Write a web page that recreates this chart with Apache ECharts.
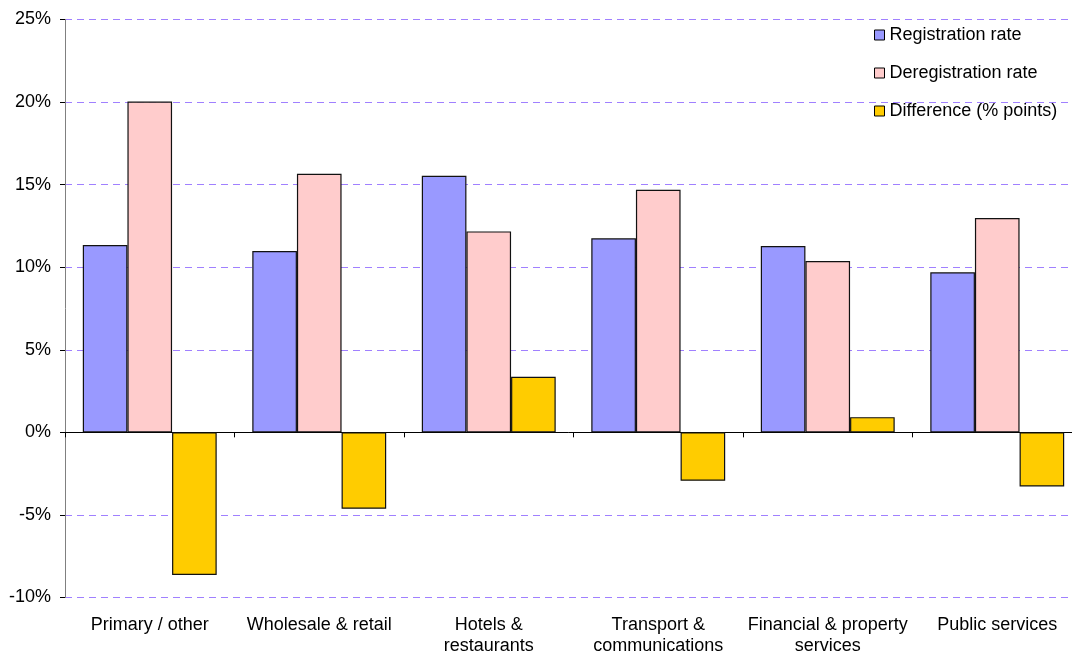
<!DOCTYPE html>
<html><head><meta charset="utf-8">
<script src="https://cdn.jsdelivr.net/npm/echarts@6/dist/echarts.min.js"></script>
<style>html,body{margin:0;padding:0;background:#fff}#c{width:1072px;height:653px}</style>
</head><body><div id="c"></div>
<script>
const categories = ["Primary / other", "Wholesale & retail", "Hotels &\nrestaurants", "Transport &\ncommunications", "Financial & property\nservices", "Public services"];
const registration = [11.34, 10.98, 15.54, 11.75, 11.28, 9.69];
const deregistration = [20.03, 15.66, 12.17, 14.69, 10.37, 12.98];
const difference = [-8.64, -4.63, 3.36, -2.93, 0.92, -3.28];
const seriesNames = ["Registration rate", "Deregistration rate", "Difference (% points)"];

const font = '"Liberation Sans", Arial, sans-serif';
const chart = echarts.init(document.getElementById('c'));
const mk = (name, data, color) => ({
  name, type: 'bar', data, xAxisIndex: 0,
  barGap: '0%', barCategoryGap: '21%',
  itemStyle: { color, borderColor: '#111', borderWidth: 1.2 },
  emphasis: { disabled: true }
});
chart.setOption({
  animation: false,
  grid: { left: 65, width: 1017, top: 19.5, bottom: 55.5, containLabel: false, outerBoundsMode: 'none' },
  legend: {
    orient: 'vertical', left: 869, top: 21, itemWidth: 10, itemHeight: 10, itemGap: 20,
    icon: 'rect',
    itemStyle: { borderColor: '#000', borderWidth: 1 },
    textStyle: { fontFamily: font, fontSize: 18, color: '#000', lineHeight: 18 },
    data: seriesNames
  },
  xAxis: [{
    type: 'category', data: categories, position: 'bottom',
    axisLine: { show: false, onZero: false }, axisTick: { show: false },
    axisLabel: { fontFamily: font, fontSize: 18, color: '#000', margin: 17, lineHeight: 21, interval: 0 }
  }, {
    type: 'category', data: categories, position: 'bottom',
    axisLine: { show: true, onZero: true, lineStyle: { color: '#000', width: 1 } },
    axisTick: { show: true, length: 5, lineStyle: { color: '#000' } },
    axisLabel: { show: false }
  }],
  yAxis: {
    type: 'value', min: -10, max: 25, interval: 5,
    axisLine: { show: true, lineStyle: { color: '#808080', width: 1 } },
    axisTick: { show: true, length: 5, lineStyle: { color: '#000' } },
    axisLabel: { fontFamily: font, fontSize: 18, color: '#000', margin: 14, formatter: '{value}%' },
    splitLine: { show: true, lineStyle: { color: '#a080ff', type: [7, 5], width: 1 } }
  },
  series: [
    mk(seriesNames[0], registration, '#9999ff'),
    mk(seriesNames[1], deregistration, '#ffcccc'),
    mk(seriesNames[2], difference, '#ffcc00')
  ]
});
</script></body></html>
